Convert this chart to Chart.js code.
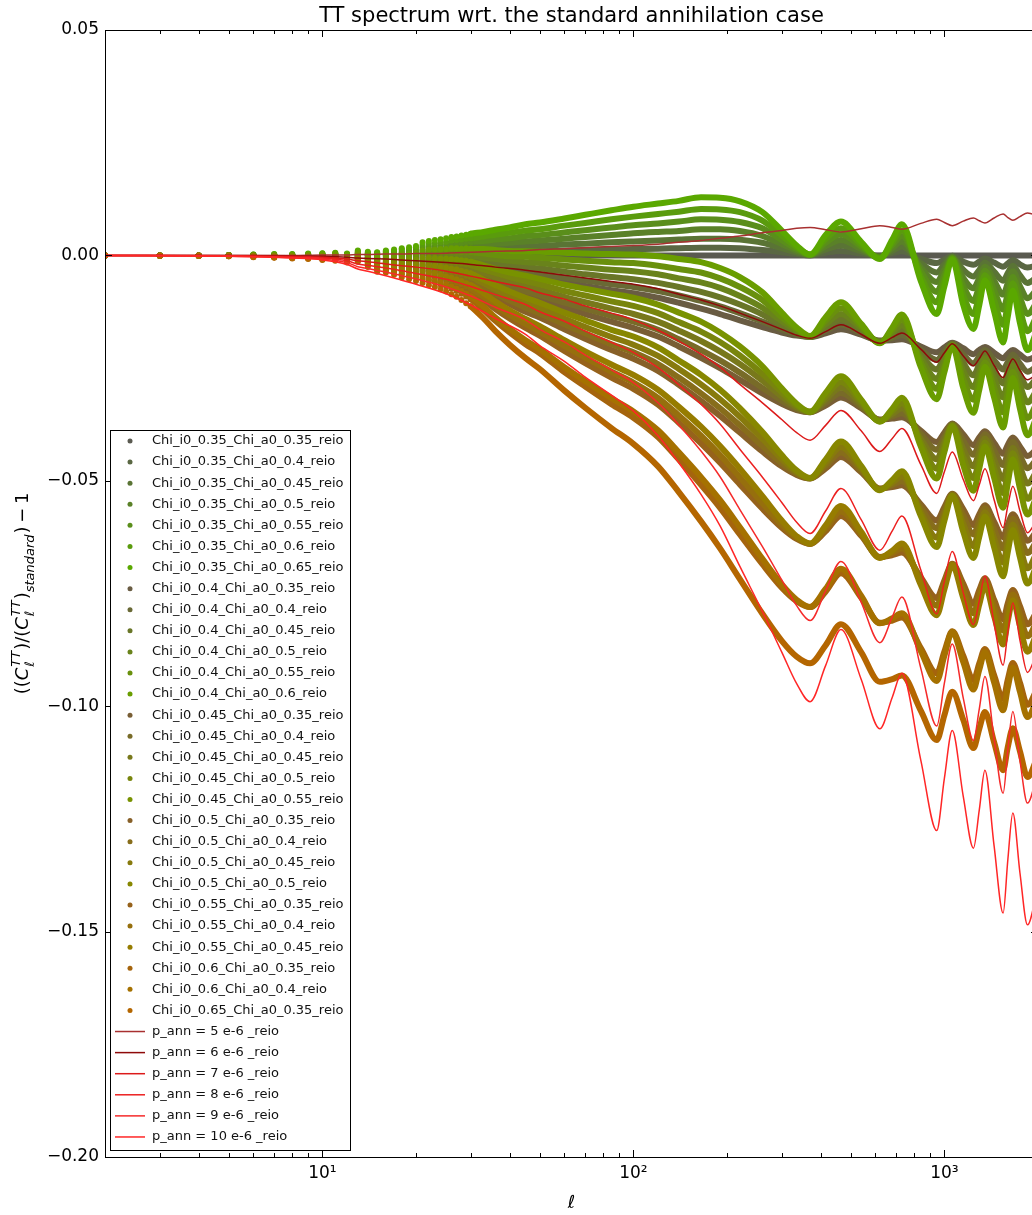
<!DOCTYPE html>
<html lang="en">
<head>
<meta charset="UTF-8">
<title>TT spectrum wrt. the standard annihilation case</title>
<script src="https://cdn.jsdelivr.net/npm/chart.js"></script>
<style>
  html, body { margin: 0; padding: 0; background: #fff; overflow: hidden; }
  #wrap { position: relative; width: 1060px; height: 1215px; }
</style>
</head>
<body>
<div id="wrap"><canvas id="chart" width="1060" height="1215"></canvas></div>
<script>
// multipoles of the Chi runs (every l up to 30, thinned out after that)
const ell = [2,3,4,5,6,7,8,9,10,11,
  12,13,14,15,16,17,18,19,20,21,
  22,23,24,25,26,27,28,29,30,33,
  36,40,45,50,60,70,85,100,120,140,
  165,190,220,260,300,335,370,415,465,540,
  620,680,730,840,945,1000,1060,1150,1240,1295,
  1350,1445,1545,1600,1660,1750,1850,2000];

// multipoles of the p_ann runs
const ellAnn = [2,5,8,10,12,13,14,16,18,20,
  25,30,36,45,50,60,70,85,100,120,
  140,165,190,220,260,300,335,370,415,465,
  540,620,680,730,840,945,1000,1060,1150,1240,
  1295,1350,1445,1545,1600,1660,1750,1850,2000];

const chiLabels = [
  'Chi_i0_0.35_Chi_a0_0.35_reio', 'Chi_i0_0.35_Chi_a0_0.4_reio', 'Chi_i0_0.35_Chi_a0_0.45_reio',
  'Chi_i0_0.35_Chi_a0_0.5_reio', 'Chi_i0_0.35_Chi_a0_0.55_reio', 'Chi_i0_0.35_Chi_a0_0.6_reio',
  'Chi_i0_0.35_Chi_a0_0.65_reio', 'Chi_i0_0.4_Chi_a0_0.35_reio', 'Chi_i0_0.4_Chi_a0_0.4_reio',
  'Chi_i0_0.4_Chi_a0_0.45_reio', 'Chi_i0_0.4_Chi_a0_0.5_reio', 'Chi_i0_0.4_Chi_a0_0.55_reio',
  'Chi_i0_0.4_Chi_a0_0.6_reio', 'Chi_i0_0.45_Chi_a0_0.35_reio', 'Chi_i0_0.45_Chi_a0_0.4_reio',
  'Chi_i0_0.45_Chi_a0_0.45_reio', 'Chi_i0_0.45_Chi_a0_0.5_reio', 'Chi_i0_0.45_Chi_a0_0.55_reio',
  'Chi_i0_0.5_Chi_a0_0.35_reio', 'Chi_i0_0.5_Chi_a0_0.4_reio', 'Chi_i0_0.5_Chi_a0_0.45_reio',
  'Chi_i0_0.5_Chi_a0_0.5_reio', 'Chi_i0_0.55_Chi_a0_0.35_reio', 'Chi_i0_0.55_Chi_a0_0.4_reio',
  'Chi_i0_0.55_Chi_a0_0.45_reio', 'Chi_i0_0.6_Chi_a0_0.35_reio', 'Chi_i0_0.6_Chi_a0_0.4_reio',
  'Chi_i0_0.65_Chi_a0_0.35_reio'
];

const chi35_35 = [0,0,0,0,0,0,0,0,0,0,
  0,0,0,0,0,0,0,0,0,0,
  0,0,0,0,0,0,0,0,0,0,
  0,0,0,0,0,0,0,0,0,0,
  0,0,0,0,0,0,0,0,0,0,
  0,0,0,0,0,0,0,0,0,0,
  0,0,0,0,0,0,0,0];
const chi35_40 = [0,0,0,0,0,0,0,.0001,.0001,.0001,
  .0001,.0001,.0001,.0001,.0001,.0002,.0002,.0002,.0003,.0004,
  .0004,.0004,.0005,.0005,.0005,.0005,.0006,.0006,.0006,.0007,
  .0007,.0008,.0009,.0009,.0011,.0012,.0013,.0014,.0015,.0016,
  .0017,.0017,.0016,.0012,.0007,.0003,0,.0006,.0010,.0004,
  -.0001,.0005,.0009,-.0007,-.0017,-.0009,-.0001,-.0014,-.0021,-.0014,
  -.0007,-.0016,-.0025,-.0018,-.0010,-.0020,-.0027,-.0021];
const chi35_45 = [0,0,0,0,.0001,.0001,.0001,.0001,.0001,.0002,
  .0001,.0003,.0002,.0002,.0003,.0004,.0005,.0005,.0006,.0008,
  .0009,.0010,.0010,.0011,.0012,.0012,.0013,.0013,.0014,.0015,
  .0017,.0018,.0020,.0021,.0024,.0026,.0029,.0031,.0033,.0035,
  .0037,.0037,.0035,.0028,.0016,.0006,.0001,.0013,.0022,.0009,
  -.0002,.0010,.0020,-.0017,-.0038,-.0020,-.0003,-.0032,-.0047,-.0032,
  -.0016,-.0036,-.0056,-.0039,-.0023,-.0044,-.0061,-.0046];
const chi35_50 = [0,0,0,0,.0001,.0001,.0001,.0002,.0002,.0003,
  .0002,.0005,.0004,.0003,.0005,.0006,.0007,.0008,.0009,.0013,
  .0014,.0015,.0016,.0017,.0018,.0019,.0020,.0021,.0022,.0023,
  .0026,.0028,.0031,.0033,.0037,.0041,.0045,.0049,.0052,.0054,
  .0058,.0058,.0054,.0043,.0025,.0010,.0001,.0020,.0034,.0014,
  -.0004,.0016,.0031,-.0026,-.0059,-.0031,-.0004,-.0050,-.0073,-.0050,
  -.0025,-.0056,-.0087,-.0061,-.0035,-.0068,-.0095,-.0072];
const chi35_55 = [0,0,0,.0001,.0001,.0002,.0002,.0002,.0003,.0004,
  .0002,.0007,.0005,.0004,.0007,.0008,.0010,.0011,.0013,.0018,
  .0020,.0021,.0022,.0024,.0025,.0026,.0027,.0029,.0030,.0032,
  .0035,.0038,.0043,.0045,.0051,.0056,.0062,.0067,.0071,.0075,
  .0080,.0079,.0074,.0060,.0034,.0014,.0001,.0028,.0047,.0019,
  -.0005,.0022,.0043,-.0035,-.0081,-.0043,-.0006,-.0068,-.0101,-.0068,
  -.0034,-.0077,-.0120,-.0084,-.0048,-.0093,-.0130,-.0099];
const chi35_60 = [0,0,0,.0001,.0002,.0002,.0002,.0003,.0004,.0005,
  .0003,.0009,.0006,.0006,.0009,.0010,.0013,.0014,.0017,.0023,
  .0026,.0027,.0029,.0030,.0033,.0034,.0035,.0037,.0038,.0042,
  .0046,.0050,.0055,.0058,.0066,.0072,.0080,.0086,.0092,.0097,
  .0103,.0102,.0096,.0077,.0044,.0018,.0002,.0036,.0060,.0024,
  -.0006,.0028,.0055,-.0046,-.0104,-.0055,-.0007,-.0088,-.0130,-.0088,
  -.0044,-.0099,-.0154,-.0108,-.0062,-.0120,-.0168,-.0128];
const chi35_65 = [0,0,0,.0001,.0002,.0003,.0003,.0004,.0005,.0006,
  .0004,.0011,.0008,.0007,.0011,.0013,.0016,.0018,.0021,.0029,
  .0032,.0034,.0036,.0038,.0041,.0042,.0044,.0046,.0048,.0052,
  .0057,.0062,.0069,.0073,.0082,.0090,.0100,.0108,.0115,.0121,
  .0129,.0128,.0120,.0096,.0055,.0022,.0002,.0045,.0075,.0030,
  -.0008,.0035,.0069,-.0057,-.0130,-.0069,-.0009,-.0110,-.0163,-.0110,
  -.0055,-.0124,-.0193,-.0135,-.0078,-.0150,-.0210,-.0160];
const chi40_35 = [0,0,0,0,-.0001,-.0001,-.0001,-.0002,-.0002,-.0002,
  -.0003,-.0003,-.0005,-.0007,-.0008,-.0009,-.0010,-.0011,-.0011,-.0012,
  -.0013,-.0014,-.0015,-.0016,-.0017,-.0018,-.0020,-.0021,-.0023,-.0028,
  -.0034,-.0040,-.0046,-.0050,-.0060,-.0068,-.0077,-.0084,-.0094,-.0105,
  -.0118,-.0130,-.0144,-.0159,-.0171,-.0178,-.0181,-.0173,-.0164,-.0176,
  -.0189,-.0188,-.0186,-.0202,-.0215,-.0204,-.0194,-.0206,-.0219,-.0210,
  -.0203,-.0216,-.0228,-.0218,-.0210,-.0220,-.0231,-.0222];
const chi40_40 = [0,0,0,0,-.0001,-.0001,-.0001,-.0001,-.0001,-.0001,
  -.0002,-.0002,-.0004,-.0006,-.0007,-.0007,-.0008,-.0009,-.0008,-.0008,
  -.0009,-.0010,-.0010,-.0011,-.0012,-.0013,-.0014,-.0015,-.0017,-.0021,
  -.0027,-.0032,-.0037,-.0041,-.0049,-.0056,-.0064,-.0070,-.0079,-.0089,
  -.0101,-.0113,-.0128,-.0147,-.0164,-.0175,-.0181,-.0167,-.0154,-.0172,
  -.0190,-.0183,-.0177,-.0209,-.0232,-.0213,-.0195,-.0220,-.0240,-.0224,
  -.0210,-.0232,-.0253,-.0236,-.0220,-.0240,-.0258,-.0243];
const chi40_45 = [0,0,0,0,0,0,0,-.0001,-.0001,0,
  -.0002,0,-.0003,-.0005,-.0005,-.0005,-.0005,-.0006,-.0005,-.0004,
  -.0004,-.0004,-.0005,-.0005,-.0005,-.0006,-.0007,-.0008,-.0009,-.0013,
  -.0017,-.0022,-.0026,-.0029,-.0036,-.0042,-.0048,-.0053,-.0061,-.0070,
  -.0081,-.0093,-.0109,-.0131,-.0155,-.0172,-.0180,-.0160,-.0142,-.0167,
  -.0191,-.0178,-.0166,-.0219,-.0253,-.0224,-.0197,-.0238,-.0266,-.0242,
  -.0219,-.0252,-.0284,-.0257,-.0233,-.0264,-.0292,-.0268];
const chi40_50 = [0,0,0,0,0,0,0,0,0,.0001,
  -.0001,.0002,-.0001,-.0004,-.0003,-.0003,-.0003,-.0003,-.0002,.0001,
  .0001,.0001,.0001,.0001,.0001,.0001,0,0,-.0001,-.0005,
  -.0008,-.0012,-.0015,-.0017,-.0023,-.0027,-.0032,-.0035,-.0042,-.0051,
  -.0060,-.0072,-.0090,-.0116,-.0146,-.0168,-.0180,-.0153,-.0130,-.0162,
  -.0193,-.0172,-.0155,-.0228,-.0274,-.0235,-.0198,-.0256,-.0292,-.0260,
  -.0228,-.0272,-.0315,-.0279,-.0245,-.0288,-.0326,-.0294];
const chi40_55 = [0,0,0,.0001,0,.0001,.0001,0,.0001,.0002,
  -.0001,.0004,0,-.0003,-.0001,-.0001,0,0,.0002,.0006,
  .0007,.0007,.0007,.0008,.0008,.0008,.0007,.0008,.0007,.0004,
  .0001,-.0002,-.0003,-.0005,-.0009,-.0012,-.0015,-.0017,-.0023,-.0030,
  -.0038,-.0051,-.0070,-.0099,-.0137,-.0164,-.0180,-.0145,-.0117,-.0157,
  -.0194,-.0166,-.0143,-.0237,-.0296,-.0247,-.0200,-.0274,-.0320,-.0278,
  -.0237,-.0293,-.0348,-.0302,-.0258,-.0313,-.0361,-.0321];
const chi40_60 = [0,0,0,.0001,.0001,.0001,.0001,.0001,.0002,.0003,
  0,.0006,.0001,-.0001,.0001,.0001,.0003,.0003,.0006,.0011,
  .0013,.0013,.0014,.0014,.0016,.0016,.0015,.0016,.0015,.0014,
  .0012,.0010,.0009,.0008,.0006,.0004,.0003,.0002,-.0002,-.0008,
  -.0015,-.0028,-.0048,-.0082,-.0127,-.0160,-.0179,-.0137,-.0104,-.0152,
  -.0195,-.0160,-.0131,-.0248,-.0319,-.0259,-.0201,-.0294,-.0349,-.0298,
  -.0247,-.0315,-.0382,-.0326,-.0272,-.0340,-.0399,-.0350];
const chi45_35 = [0,0,0,-.0001,-.0002,-.0002,-.0003,-.0003,-.0004,-.0005,
  -.0006,-.0005,-.0010,-.0014,-.0015,-.0017,-.0019,-.0020,-.0022,-.0023,
  -.0025,-.0027,-.0029,-.0031,-.0033,-.0035,-.0038,-.0041,-.0044,-.0054,
  -.0065,-.0076,-.0088,-.0097,-.0116,-.0130,-.0147,-.0161,-.0180,-.0202,
  -.0227,-.0250,-.0276,-.0306,-.0329,-.0343,-.0348,-.0333,-.0315,-.0339,
  -.0364,-.0362,-.0359,-.0389,-.0414,-.0393,-.0373,-.0397,-.0421,-.0404,
  -.0390,-.0416,-.0440,-.0420,-.0404,-.0424,-.0445,-.0427];
const chi45_40 = [0,0,0,-.0001,-.0002,-.0002,-.0003,-.0002,-.0003,-.0004,
  -.0005,-.0004,-.0009,-.0013,-.0014,-.0015,-.0017,-.0018,-.0019,-.0019,
  -.0021,-.0023,-.0024,-.0026,-.0028,-.0030,-.0032,-.0035,-.0038,-.0047,
  -.0058,-.0068,-.0079,-.0088,-.0105,-.0118,-.0134,-.0147,-.0165,-.0186,
  -.0210,-.0233,-.0260,-.0294,-.0322,-.0340,-.0348,-.0327,-.0305,-.0335,
  -.0365,-.0357,-.0350,-.0396,-.0431,-.0402,-.0374,-.0411,-.0442,-.0418,
  -.0397,-.0432,-.0465,-.0438,-.0414,-.0444,-.0472,-.0448];
const chi45_45 = [0,0,0,-.0001,-.0001,-.0001,-.0002,-.0002,-.0003,-.0003,
  -.0005,-.0002,-.0008,-.0012,-.0012,-.0013,-.0014,-.0015,-.0016,-.0015,
  -.0016,-.0017,-.0019,-.0020,-.0021,-.0023,-.0025,-.0028,-.0030,-.0039,
  -.0048,-.0058,-.0068,-.0076,-.0092,-.0104,-.0118,-.0130,-.0147,-.0167,
  -.0190,-.0213,-.0241,-.0278,-.0313,-.0337,-.0347,-.0320,-.0293,-.0330,
  -.0366,-.0352,-.0339,-.0406,-.0452,-.0413,-.0376,-.0429,-.0468,-.0436,
  -.0406,-.0452,-.0496,-.0459,-.0427,-.0468,-.0506,-.0473];
const chi45_50 = [0,0,0,-.0001,-.0001,-.0001,-.0002,-.0001,-.0002,-.0002,
  -.0004,0,-.0006,-.0011,-.0010,-.0011,-.0012,-.0012,-.0013,-.0010,
  -.0011,-.0012,-.0013,-.0014,-.0015,-.0016,-.0018,-.0020,-.0022,-.0031,
  -.0039,-.0048,-.0057,-.0064,-.0079,-.0089,-.0102,-.0112,-.0128,-.0148,
  -.0169,-.0192,-.0222,-.0263,-.0304,-.0333,-.0347,-.0313,-.0281,-.0325,
  -.0368,-.0346,-.0328,-.0415,-.0473,-.0424,-.0377,-.0447,-.0494,-.0454,
  -.0415,-.0472,-.0527,-.0481,-.0439,-.0492,-.0540,-.0499];
const chi45_55 = [0,0,0,0,-.0001,0,-.0001,-.0001,-.0001,-.0001,
  -.0004,.0002,-.0005,-.0010,-.0008,-.0009,-.0009,-.0009,-.0009,-.0005,
  -.0005,-.0006,-.0007,-.0007,-.0008,-.0009,-.0011,-.0012,-.0014,-.0022,
  -.0030,-.0038,-.0045,-.0052,-.0065,-.0074,-.0085,-.0094,-.0109,-.0127,
  -.0147,-.0171,-.0202,-.0246,-.0295,-.0329,-.0347,-.0305,-.0268,-.0320,
  -.0369,-.0340,-.0316,-.0424,-.0495,-.0436,-.0379,-.0465,-.0522,-.0472,
  -.0424,-.0493,-.0560,-.0504,-.0452,-.0517,-.0575,-.0526];
const chi50_35 = [0,-.0001,-.0001,-.0001,-.0002,-.0003,-.0004,-.0004,-.0005,-.0007,
  -.0009,-.0008,-.0014,-.0020,-.0021,-.0024,-.0027,-.0029,-.0031,-.0033,
  -.0036,-.0038,-.0041,-.0044,-.0047,-.0050,-.0054,-.0058,-.0062,-.0077,
  -.0092,-.0108,-.0125,-.0138,-.0164,-.0185,-.0210,-.0229,-.0256,-.0287,
  -.0323,-.0356,-.0393,-.0435,-.0468,-.0487,-.0495,-.0473,-.0447,-.0481,
  -.0517,-.0514,-.0510,-.0552,-.0588,-.0558,-.0529,-.0563,-.0598,-.0574,
  -.0554,-.0591,-.0625,-.0596,-.0574,-.0602,-.0633,-.0607];
const chi50_40 = [0,-.0001,-.0001,-.0001,-.0002,-.0003,-.0004,-.0003,-.0004,-.0006,
  -.0008,-.0007,-.0013,-.0019,-.0020,-.0022,-.0025,-.0027,-.0028,-.0029,
  -.0032,-.0034,-.0036,-.0039,-.0042,-.0045,-.0048,-.0052,-.0056,-.0070,
  -.0085,-.0100,-.0116,-.0129,-.0153,-.0173,-.0197,-.0215,-.0241,-.0271,
  -.0306,-.0339,-.0377,-.0423,-.0461,-.0484,-.0495,-.0467,-.0437,-.0477,
  -.0518,-.0509,-.0501,-.0559,-.0605,-.0567,-.0530,-.0577,-.0619,-.0588,
  -.0561,-.0607,-.0650,-.0614,-.0584,-.0622,-.0660,-.0628];
const chi50_45 = [0,-.0001,-.0001,-.0001,-.0001,-.0002,-.0003,-.0003,-.0004,-.0005,
  -.0008,-.0005,-.0012,-.0018,-.0018,-.0020,-.0022,-.0024,-.0025,-.0025,
  -.0027,-.0028,-.0031,-.0033,-.0035,-.0038,-.0041,-.0045,-.0048,-.0062,
  -.0075,-.0090,-.0105,-.0117,-.0140,-.0159,-.0181,-.0198,-.0223,-.0252,
  -.0286,-.0319,-.0358,-.0407,-.0452,-.0481,-.0494,-.0460,-.0425,-.0472,
  -.0519,-.0504,-.0490,-.0569,-.0626,-.0578,-.0532,-.0595,-.0645,-.0606,
  -.0570,-.0627,-.0681,-.0635,-.0597,-.0646,-.0694,-.0653];
const chi50_50 = [0,-.0001,-.0001,-.0001,-.0001,-.0002,-.0003,-.0002,-.0003,-.0004,
  -.0007,-.0003,-.0010,-.0017,-.0016,-.0018,-.0020,-.0021,-.0022,-.0020,
  -.0022,-.0023,-.0025,-.0027,-.0029,-.0031,-.0034,-.0037,-.0040,-.0054,
  -.0066,-.0080,-.0094,-.0105,-.0127,-.0144,-.0165,-.0180,-.0204,-.0233,
  -.0265,-.0298,-.0339,-.0392,-.0443,-.0477,-.0494,-.0453,-.0413,-.0467,
  -.0521,-.0498,-.0479,-.0578,-.0647,-.0589,-.0533,-.0613,-.0671,-.0624,
  -.0579,-.0647,-.0712,-.0657,-.0609,-.0670,-.0728,-.0679];
const chi55_35 = [0,-.0001,-.0001,-.0001,-.0003,-.0004,-.0005,-.0006,-.0007,-.0008,
  -.0011,-.0010,-.0018,-.0025,-.0027,-.0030,-.0035,-.0037,-.0040,-.0043,
  -.0047,-.0049,-.0053,-.0057,-.0061,-.0065,-.0070,-.0075,-.0080,-.0099,
  -.0119,-.0140,-.0161,-.0178,-.0212,-.0239,-.0271,-.0296,-.0331,-.0371,
  -.0417,-.0460,-.0508,-.0562,-.0604,-.0629,-.0640,-.0612,-.0578,-.0622,
  -.0669,-.0665,-.0659,-.0714,-.0760,-.0721,-.0684,-.0728,-.0773,-.0742,
  -.0716,-.0764,-.0807,-.0771,-.0742,-.0778,-.0818,-.0785];
const chi55_40 = [0,-.0001,-.0001,-.0001,-.0003,-.0004,-.0005,-.0005,-.0006,-.0007,
  -.0010,-.0009,-.0017,-.0024,-.0026,-.0028,-.0033,-.0035,-.0037,-.0039,
  -.0043,-.0045,-.0048,-.0052,-.0056,-.0060,-.0064,-.0069,-.0074,-.0092,
  -.0112,-.0132,-.0152,-.0169,-.0201,-.0227,-.0258,-.0282,-.0316,-.0355,
  -.0400,-.0443,-.0492,-.0550,-.0597,-.0626,-.0640,-.0606,-.0568,-.0618,
  -.0670,-.0660,-.0650,-.0721,-.0777,-.0730,-.0685,-.0742,-.0794,-.0756,
  -.0723,-.0780,-.0832,-.0789,-.0752,-.0798,-.0845,-.0806];
const chi55_45 = [0,-.0001,-.0001,-.0001,-.0002,-.0003,-.0004,-.0005,-.0006,-.0006,
  -.0010,-.0007,-.0016,-.0023,-.0024,-.0026,-.0030,-.0032,-.0034,-.0035,
  -.0038,-.0039,-.0043,-.0046,-.0049,-.0053,-.0057,-.0062,-.0066,-.0084,
  -.0102,-.0122,-.0141,-.0157,-.0188,-.0213,-.0242,-.0265,-.0298,-.0336,
  -.0380,-.0423,-.0473,-.0534,-.0588,-.0623,-.0639,-.0599,-.0556,-.0613,
  -.0671,-.0655,-.0639,-.0731,-.0798,-.0741,-.0687,-.0760,-.0820,-.0774,
  -.0732,-.0800,-.0863,-.0810,-.0765,-.0822,-.0879,-.0831];
const chi60_35 = [0,-.0001,-.0001,-.0002,-.0003,-.0004,-.0006,-.0007,-.0009,-.0010,
  -.0014,-.0012,-.0022,-.0031,-.0033,-.0037,-.0042,-.0046,-.0049,-.0053,
  -.0057,-.0060,-.0065,-.0069,-.0074,-.0079,-.0085,-.0091,-.0097,-.0121,
  -.0145,-.0171,-.0197,-.0217,-.0259,-.0291,-.0330,-.0360,-.0403,-.0453,
  -.0509,-.0560,-.0619,-.0685,-.0737,-.0767,-.0780,-.0746,-.0705,-.0759,
  -.0815,-.0810,-.0803,-.0871,-.0927,-.0879,-.0834,-.0888,-.0942,-.0905,
  -.0873,-.0931,-.0984,-.0940,-.0904,-.0948,-.0997,-.0957];
const chi60_40 = [0,-.0001,-.0001,-.0002,-.0003,-.0004,-.0006,-.0006,-.0008,-.0009,
  -.0013,-.0011,-.0021,-.0030,-.0032,-.0035,-.0040,-.0044,-.0046,-.0049,
  -.0053,-.0056,-.0060,-.0064,-.0069,-.0074,-.0079,-.0085,-.0091,-.0114,
  -.0138,-.0163,-.0188,-.0208,-.0248,-.0279,-.0317,-.0346,-.0388,-.0437,
  -.0492,-.0543,-.0603,-.0673,-.0730,-.0764,-.0780,-.0740,-.0695,-.0755,
  -.0816,-.0805,-.0794,-.0878,-.0944,-.0888,-.0835,-.0902,-.0963,-.0919,
  -.0880,-.0947,-.1009,-.0958,-.0914,-.0968,-.1024,-.0978];
const chi65_35 = [0,-.0001,-.0001,-.0002,-.0004,-.0005,-.0007,-.0008,-.0010,-.0012,
  -.0016,-.0014,-.0026,-.0036,-.0038,-.0043,-.0049,-.0053,-.0057,-.0061,
  -.0066,-.0070,-.0075,-.0080,-.0086,-.0092,-.0099,-.0106,-.0113,-.0140,
  -.0168,-.0198,-.0228,-.0252,-.0300,-.0338,-.0383,-.0418,-.0468,-.0525,
  -.0590,-.0650,-.0718,-.0795,-.0855,-.0890,-.0905,-.0865,-.0818,-.0880,
  -.0946,-.0940,-.0932,-.1010,-.1075,-.1020,-.0968,-.1030,-.1093,-.1050,
  -.1013,-.1080,-.1142,-.1090,-.1049,-.1100,-.1157,-.1110];

const annLabels = ['p_ann = 5 e-6 _reio', 'p_ann = 6 e-6 _reio', 'p_ann = 7 e-6 _reio',
  'p_ann = 8 e-6 _reio', 'p_ann = 9 e-6 _reio', 'p_ann = 10 e-6 _reio'];

const pann5 = [0,0,0,.0001,.0001,.0002,.0002,.0003,.0003,.0004,
  .0005,.0007,.0009,.0011,.0013,.0015,.0017,.0020,.0022,.0025,
  .0029,.0033,.0038,.0043,.0050,.0055,.0060,.0062,.0057,.0052,
  .0059,.0066,.0062,.0058,.0071,.0080,.0073,.0066,.0076,.0083,
  .0077,.0072,.0083,.0092,.0084,.0078,.0086,.0094,.0088];
const pann6 = [0,0,-.0001,-.0002,-.0004,-.0006,-.0007,-.0008,-.0010,-.0012,
  -.0016,-.0020,-.0026,-.0033,-.0037,-.0044,-.0050,-.0058,-.0064,-.0074,
  -.0086,-.0099,-.0112,-.0128,-.0147,-.0164,-.0177,-.0184,-.0169,-.0154,
  -.0175,-.0195,-.0182,-.0172,-.0208,-.0237,-.0216,-.0196,-.0223,-.0245,
  -.0229,-.0212,-.0244,-.0271,-.0249,-.0230,-.0255,-.0276,-.0260];
const pann7 = [0,-.0001,-.0002,-.0004,-.0008,-.0012,-.0014,-.0019,-.0023,-.0026,
  -.0035,-.0046,-.0058,-.0072,-.0083,-.0097,-.0112,-.0128,-.0143,-.0166,
  -.0190,-.0219,-.0248,-.0286,-.0327,-.0364,-.0393,-.0410,-.0377,-.0344,
  -.0389,-.0435,-.0406,-.0384,-.0464,-.0528,-.0480,-.0436,-.0497,-.0544,
  -.0509,-.0473,-.0542,-.0604,-.0555,-.0512,-.0567,-.0615,-.0580];
const pann8 = [0,-.0001,-.0004,-.0006,-.0012,-.0019,-.0022,-.0028,-.0034,-.0040,
  -.0053,-.0069,-.0087,-.0109,-.0125,-.0146,-.0168,-.0193,-.0215,-.0249,
  -.0287,-.0330,-.0374,-.0430,-.0492,-.0548,-.0592,-.0617,-.0567,-.0517,
  -.0586,-.0654,-.0611,-.0578,-.0698,-.0795,-.0723,-.0657,-.0748,-.0819,
  -.0766,-.0711,-.0816,-.0909,-.0835,-.0771,-.0854,-.0925,-.0872];
const pann9 = [0,-.0002,-.0005,-.0008,-.0016,-.0025,-.0029,-.0037,-.0045,-.0052,
  -.0070,-.0090,-.0115,-.0143,-.0164,-.0192,-.0221,-.0254,-.0282,-.0327,
  -.0376,-.0434,-.0491,-.0564,-.0646,-.0720,-.0777,-.0810,-.0744,-.0679,
  -.0769,-.0859,-.0802,-.0758,-.0916,-.1044,-.0949,-.0862,-.0982,-.1076,
  -.1006,-.0934,-.1072,-.1193,-.1096,-.1012,-.1121,-.1215,-.1145];
const pann10 = [0,-.0002,-.0006,-.0010,-.0020,-.0030,-.0035,-.0045,-.0055,-.0064,
  -.0085,-.0110,-.0140,-.0175,-.0200,-.0235,-.0270,-.0310,-.0345,-.0400,
  -.0460,-.0530,-.0600,-.0690,-.0790,-.0880,-.0950,-.0990,-.0910,-.0830,
  -.0940,-.1050,-.0980,-.0927,-.1120,-.1276,-.1160,-.1054,-.1200,-.1315,
  -.1230,-.1142,-.1310,-.1459,-.1340,-.1237,-.1370,-.1485,-.1400];

const xTicks = [10, 100, 1000];
const xTickLabels = ['10\u00B9', '10\u00B2', '10\u00B3'];
const yTicks = [-0.2, -0.15, -0.1, -0.05, 0, 0.05];
const yTickLabels = ['\u22120.20', '\u22120.15', '\u22120.10', '\u22120.05', '0.00', '0.05'];

const chiSeries = [chi35_35, chi35_40, chi35_45, chi35_50, chi35_55, chi35_60, chi35_65,
  chi40_35, chi40_40, chi40_45, chi40_50, chi40_55, chi40_60,
  chi45_35, chi45_40, chi45_45, chi45_50, chi45_55,
  chi50_35, chi50_40, chi50_45, chi50_50,
  chi55_35, chi55_40, chi55_45,
  chi60_35, chi60_40, chi65_35];
const annSeries = [pann5, pann6, pann7, pann8, pann9, pann10];
const annColors = ['#a83030', '#8e0a0a', '#dc1a1a', '#ec2020', '#f52a2a', '#ff2626'];

// grey -> green with a0, grey -> orange with i0
function chiColor(i0, a0) {
  const ti = (i0 - 0.35) / 0.3, ta = (a0 - 0.35) / 0.3;
  const r = Math.round(90 + 90 * ti);
  const g = Math.round(90 + 78 * ta + 12 * ti);
  const b = Math.round(Math.max(0, 80 * (1 - ti - ta)));
  return `rgb(${r},${g},${b})`;
}

const datasets = [];
chiSeries.forEach((vals, i) => {
  const m = chiLabels[i].match(/i0_([\d.]+)_Chi_a0_([\d.]+)/);
  const col = chiColor(parseFloat(m[1]), parseFloat(m[2]));
  datasets.push({
    label: chiLabels[i],
    kind: 'dot',
    data: ell.map((l, k) => ({ x: l, y: vals[k] })),
    borderColor: col,
    backgroundColor: col,
    pointBackgroundColor: col,
    borderWidth: 6,
    borderCapStyle: 'round',
    borderJoinStyle: 'round',
    pointBorderWidth: 0,
    pointRadius: ctx => (ell[ctx.dataIndex] <= 30 ? 3 : 0),
    segment: { borderColor: ctx => (ell[ctx.p1DataIndex] <= 30 ? 'rgba(0,0,0,0)' : undefined) },
    cubicInterpolationMode: 'monotone',
    clip: 0,
    order: 200 - i
  });
});
annSeries.forEach((vals, j) => {
  datasets.push({
    label: annLabels[j],
    kind: 'line',
    data: ellAnn.map((l, k) => ({ x: l, y: vals[k] })),
    borderColor: annColors[j],
    backgroundColor: annColors[j],
    borderWidth: 1.5,
    pointRadius: 0,
    cubicInterpolationMode: 'monotone',
    clip: 0,
    order: 50 - j
  });
});

const FONT = '"DejaVu Sans", "Liberation Sans", sans-serif';

const axesFrame = {
  id: 'axesFrame',
  afterDraw(chart) {
    const { ctx, chartArea: a, scales: { x, y } } = chart;
    ctx.save();
    ctx.strokeStyle = '#000';
    ctx.lineWidth = 1;
    ctx.strokeRect(a.left + 0.5, a.top + 0.5, a.right - a.left, a.bottom - a.top);
    ctx.beginPath();
    for (let e = 1; e <= 1000; e *= 10) {
      for (let m = 1; m <= 9; m++) {
        const v = m * e;
        if (v < 2 || v >= 2000) continue;
        const px = Math.round(x.getPixelForValue(v)) + 0.5;
        const len = m === 1 ? 7 : 4;
        ctx.moveTo(px, a.bottom); ctx.lineTo(px, a.bottom - len);
        ctx.moveTo(px, a.top); ctx.lineTo(px, a.top + len);
      }
    }
    yTicks.forEach(v => {
      const py = Math.round(y.getPixelForValue(v)) + 0.5;
      ctx.moveTo(a.left, py); ctx.lineTo(a.left + 7, py);
      ctx.moveTo(a.right, py); ctx.lineTo(a.right - 7, py);
    });
    ctx.stroke();
    ctx.restore();
  }
};

// pieces of the y label: ((C_l^TT)/(C_l^TT)_standard)-1
const yLabelParts = [
  { t: '((' }, { t: 'C', it: true }, { sup: 'TT', sub: '\u2113' }, { t: ')/(' },
  { t: 'C', it: true }, { sup: 'TT', sub: '\u2113' }, { t: ')' },
  { low: 'standard' }, { t: ')\u2009\u2212\u20091' }
];

function drawYLabel(ctx, cx, cy) {
  const big = 18, small = 13;
  const fN = `${big}px ${FONT}`, fI = `italic ${big}px ${FONT}`, fS = `italic ${small}px ${FONT}`;
  let w = 0;
  const items = yLabelParts.map(p => {
    let ww;
    if (p.sup) {
      ctx.font = fS;
      ww = Math.max(ctx.measureText(p.sup).width, ctx.measureText(p.sub).width) + 1;
    } else if (p.low) {
      ctx.font = fS; ww = ctx.measureText(p.low).width + 1;
    } else {
      ctx.font = p.it ? fI : fN; ww = ctx.measureText(p.t).width + (p.it ? 1 : 0);
    }
    const it = { p, x: w };
    w += ww;
    return it;
  });
  ctx.save();
  ctx.translate(cx, cy);
  ctx.rotate(-Math.PI / 2);
  ctx.fillStyle = '#000';
  ctx.textBaseline = 'alphabetic';
  ctx.textAlign = 'left';
  const x0 = -w / 2;
  items.forEach(({ p, x }) => {
    if (p.sup) {
      ctx.font = fS;
      ctx.fillText(p.sup, x0 + x, -8);
      ctx.fillText(p.sub, x0 + x, 6);
    } else if (p.low) {
      ctx.font = fS;
      ctx.fillText(p.low, x0 + x, 6);
    } else {
      ctx.font = p.it ? fI : fN;
      ctx.fillText(p.t, x0 + x, 0);
    }
  });
  ctx.restore();
}

const texts = {
  id: 'texts',
  afterDraw(chart) {
    const { ctx, chartArea: a } = chart;
    const mid = (a.left + a.right) / 2;
    ctx.save();
    ctx.fillStyle = '#000';
    ctx.textAlign = 'center';
    ctx.textBaseline = 'alphabetic';
    ctx.font = `21px ${FONT}`;
    ctx.fillText('TT spectrum wrt. the standard annihilation case', mid, 22);
    ctx.font = `italic 18px ${FONT}`;
    ctx.fillText('\u2113', mid, 1208);
    ctx.restore();
    drawYLabel(ctx, 28, (a.top + a.bottom) / 2);
  }
};

const boxLegend = {
  id: 'boxLegend',
  afterDraw(chart) {
    const { ctx } = chart;
    const ds = chart.data.datasets;
    const bx = 110.5, by = 430.5, bw = 240, bh = 720, step = 21.09, first = 441;
    ctx.save();
    ctx.fillStyle = '#fff';
    ctx.fillRect(bx, by, bw, bh);
    ctx.strokeStyle = '#000';
    ctx.lineWidth = 1;
    ctx.strokeRect(bx, by, bw, bh);
    ctx.font = `13px ${FONT}`;
    ctx.textBaseline = 'middle';
    ctx.textAlign = 'left';
    ds.forEach((d, i) => {
      const yy = first + i * step;
      if (d.kind === 'dot') {
        ctx.fillStyle = d.borderColor;
        ctx.beginPath();
        ctx.arc(130, yy, 2.5, 0, Math.PI * 2);
        ctx.fill();
      } else {
        ctx.strokeStyle = d.borderColor;
        ctx.lineWidth = 1.5;
        ctx.beginPath();
        ctx.moveTo(115, yy);
        ctx.lineTo(145, yy);
        ctx.stroke();
      }
      ctx.fillStyle = '#111';
      ctx.fillText(d.label, 152, yy);
    });
    ctx.restore();
  }
};

new Chart(document.getElementById('chart').getContext('2d'), {
  type: 'line',
  data: { datasets: datasets },
  options: {
    responsive: false,
    maintainAspectRatio: false,
    animation: false,
    events: [],
    layout: { padding: { top: 30, right: 22, left: 0, bottom: 0 } },
    scales: {
      x: {
        type: 'logarithmic',
        min: 2,
        max: 2000,
        grid: { display: false, drawTicks: false },
        border: { display: false },
        afterBuildTicks: s => { s.ticks = xTicks.map(v => ({ value: v })); },
        afterFit: s => { s.height = 58; },
        ticks: {
          autoSkip: false,
          maxRotation: 0,
          padding: 6,
          color: '#000',
          font: { family: FONT, size: 17 },
          callback: v => xTickLabels[xTicks.indexOf(v)]
        }
      },
      y: {
        type: 'linear',
        min: -0.2,
        max: 0.05,
        grid: { display: false, drawTicks: false },
        border: { display: false },
        afterBuildTicks: s => { s.ticks = yTicks.map(v => ({ value: v })); },
        afterFit: s => { s.width = 105; },
        ticks: {
          padding: 6,
          color: '#000',
          font: { family: FONT, size: 17 },
          callback: (v, i) => yTickLabels[i]
        }
      }
    },
    plugins: {
      legend: { display: false },
      tooltip: { enabled: false },
      title: { display: false }
    }
  },
  plugins: [axesFrame, texts, boxLegend]
});
</script>
</body>
</html>
